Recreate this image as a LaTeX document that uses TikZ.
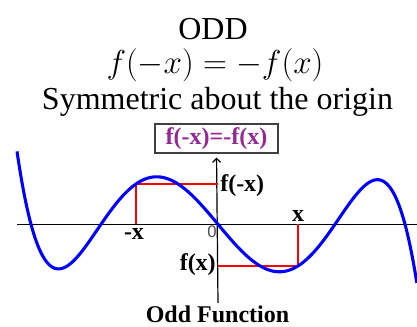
\documentclass[tikz,border=0pt]{standalone}
\usepackage{fontspec}
\setmainfont{Liberation Serif}[BoldFont={Liberation Serif Bold}]
\newfontfamily\tserif{Liberation Serif}
\newfontfamily\lsans{Liberation Sans}
\usetikzlibrary{arrows.meta}
\definecolor{curveblue}{RGB}{0,0,255}
\definecolor{boxpurple}{RGB}{150,40,150}
\tikzset{
  curve/.style={curveblue, line width=2.3pt},
  redline/.style={red, line width=1.4pt},
  axisline/.style={black, line width=0.9pt},
  lbl/.style={font=\fontsize{18}{20}\selectfont\bfseries, inner sep=0pt},
  titletext/.style={font=\tserif\fontsize{24}{28}\selectfont, inner sep=0pt, anchor=base},
}
\begin{document}
\begin{tikzpicture}[x=0.75pt,y=-0.75pt]
\useasboundingbox (0,0) rectangle (417,327);
\fill[white] (0,0) rectangle (417,327);
% titles
\node[titletext] (odd) at (213,39.3) {ODD};
\node[titletext] (eq) at (215,74) {$f(-x)=-f(x)$};
\node[titletext] (sym) at (217.5,110) {Symmetric about the origin};
% box
\node[draw=black!75, line width=0.9pt, minimum width=92.25pt, minimum height=21.75pt,
      inner sep=0pt, text=boxpurple, font=\fontsize{18}{20}\selectfont\bfseries] (box) at (216.5,138.5) {f(-x)=-f(x)};
% axes
\coordinate (xl) at (17,224.3);
\coordinate (xr) at (417,224.3);
\coordinate (yb) at (218,303);
\draw[axisline] (xl) -- (xr);
\draw[axisline, -{Straight Barb[length=3pt,width=6pt]}, shorten >=3pt] (yb) -- (box.south);
% red guide lines
\coordinate (P1) at (136,183.9);
\coordinate (X1) at (136,224.3);
\coordinate (Y1) at (218,183.9);
\coordinate (P2) at (298,265.9);
\coordinate (X2) at (298,224.3);
\coordinate (Y2) at (218,265.9);
\draw[redline] (X1) -- (P1) -- (Y1);
\draw[redline] (X2) -- (P2) -- (Y2);
% curve
\draw[curve] plot[domain=-2.01:1.99, samples=160, smooth]
  ({218+100*\x}, {224.3+25*\x*(\x*\x-1.3689)*(\x*\x-3.4969)});
% labels
\node[lbl, anchor=base west] (lfmx) at (220,191.5) {f(-x)};
\node[lbl, anchor=base east] (lfx) at (216,270.5) {f(x)};
\node[lbl, anchor=base] (lx) at (298,221.5) {x};
\node[lbl, anchor=base] (lmx) at (134,239.3) {-x};
\node[inner sep=0pt, text=black!70, font=\lsans\fontsize{12.5}{14}\selectfont] (zero) at (212,232) {0};
\node[lbl, anchor=base] (oddf) at (217.5,322.5) {Odd Function};
\end{tikzpicture}
\end{document}
